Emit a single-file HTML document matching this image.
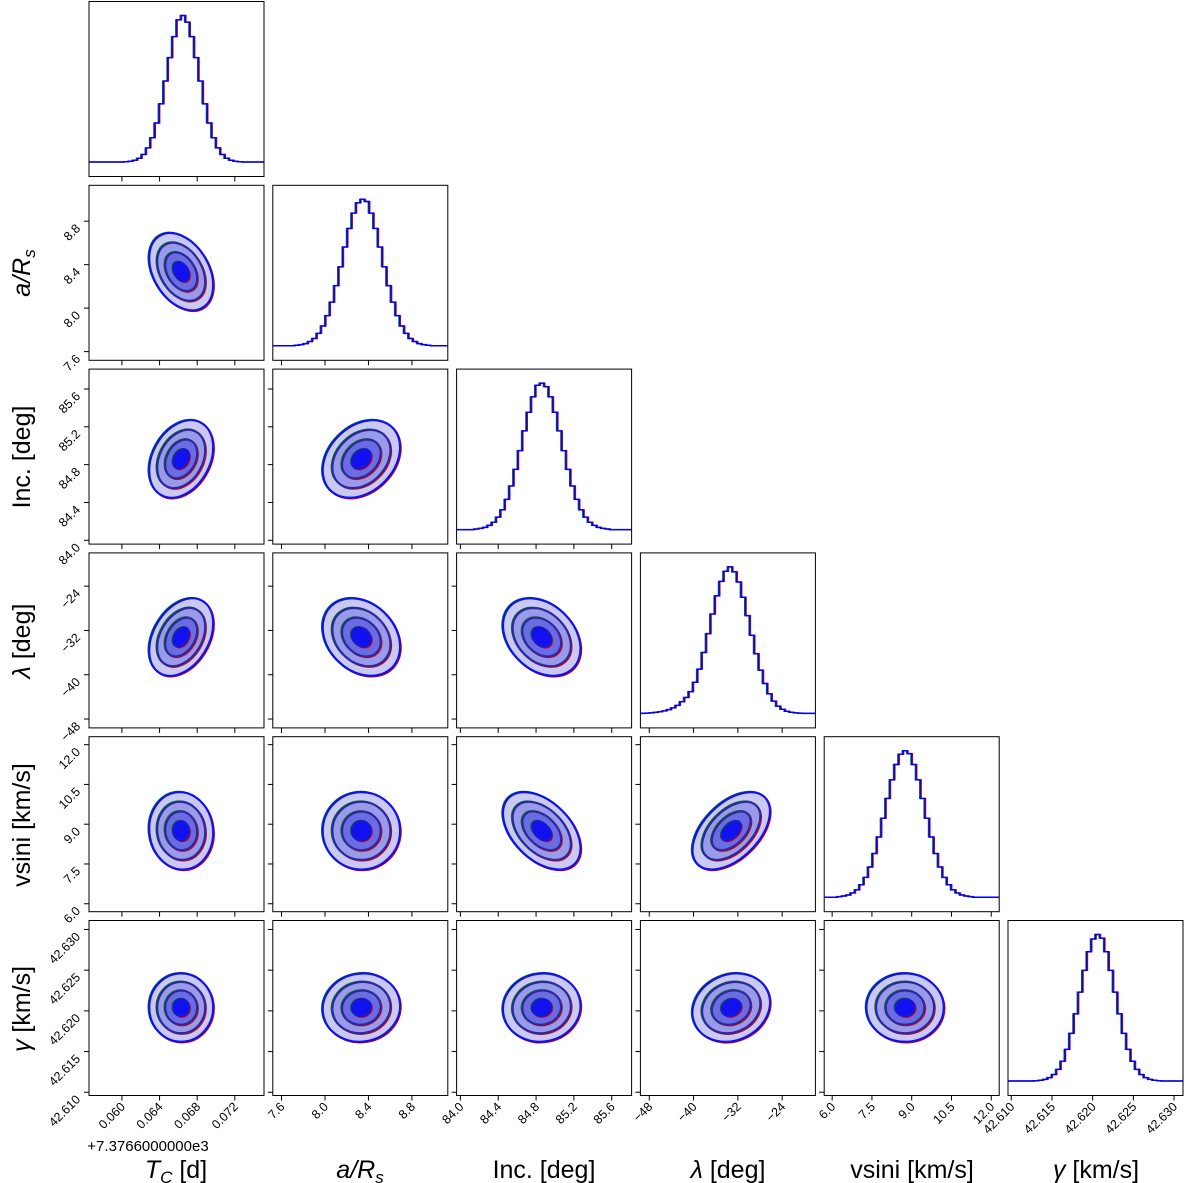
<!DOCTYPE html>
<html><head><meta charset="utf-8"><style>
html,body{margin:0;padding:0;background:#fff;}
svg{display:block;font-family:"Liberation Sans","DejaVu Sans",sans-serif;}
</style></head><body>
<svg id="fig" width="1200" height="1183" viewBox="0 0 1200 1183" xmlns="http://www.w3.org/2000/svg"></svg>
<script>
// ---- data ----
const paramNames = ["Tc","aRs","inc","lambda","vsini","gamma"];
const axisMin = [0.0565, 7.52, 83.96, -49.6, 5.70, 42.6096];
const axisMax = [0.0751, 9.13, 85.81, -18.0, 12.30, 42.6311];
const tickValues = [
  [0.060,0.064,0.068,0.072],
  [7.6,8.0,8.4,8.8],
  [84.0,84.4,84.8,85.2,85.6],
  [-48,-40,-32,-24],
  [6.0,7.5,9.0,10.5,12.0],
  [42.610,42.615,42.620,42.625,42.630]
];
const tickLabels = [
  ["0.060","0.064","0.068","0.072"],
  ["7.6","8.0","8.4","8.8"],
  ["84.0","84.4","84.8","85.2","85.6"],
  ["\u221248","\u221240","\u221232","\u221224"],
  ["6.0","7.5","9.0","10.5","12.0"],
  ["42.610","42.615","42.620","42.625","42.630"]
];
const paramMean = [0.0663, 8.335, 84.86, -33.2, 8.75, 42.6204];
const paramSd   = [0.0017, 0.178, 0.205, 3.5, 0.73, 0.0021];
// correlation pairs (row parameter vs column parameter)
const corrA = [0, -0.35, 0.30, 0.35, -0.05, 0.0];
const corrB = [0, 0, 0.30, -0.25, 0.0, 0.05];
const corrC = [0, 0, 0, -0.30, -0.45, 0.05];
const corrD = [0, 0, 0, 0, 0.50, 0.15];
const corrE = [0, 0, 0, 0, 0, 0.0];
const corrRows = [null, [corrA[1]], [corrA[2],corrB[2]], [corrA[3],corrB[3],corrC[3]], [corrA[4],corrB[4],corrC[4],corrD[4]], [corrA[5],corrB[5],corrC[5],corrD[5],corrE[5]]];
// histogram counts (40 bins across axis range, peak ~100)
const histTc = [0,0,0,0,0,0,0,0,0.2,0.5,1.2,2.6,5.2,9.7,16.7,26.9,40.1,55.8,72,86.4,98,101,96.4,86.4,72,55.8,40.1,26.9,16.7,9.7,5.2,2.6,1.2,0.5,0.2,0,0,0,0,0];
const histA  = [0,0,0,0,0,0.4,0.8,1.5,2.9,5,8.5,13.5,20.6,29.8,41.1,53.9,67.4,80.1,90.6,97.6,100,98.5,90.6,80.1,67.4,53.9,41.1,29.8,20.6,13.5,8.5,5,2.9,1.5,0.8,0.4,0,0,0,0];
const histInc= [0,0,0,0,0.4,0.8,1.5,2.9,5,8.5,13.5,20.6,29.8,41.1,53.9,67.4,80.1,90.6,98.5,100,97.6,90.6,80.1,67.4,53.9,41.1,29.8,20.6,13.5,8.5,5,2.9,1.5,0.8,0.4,0,0,0,0,0];
const histLam= [0,0.2,0.4,0.7,1.1,1.7,2.6,3.8,5.5,8,11,15,21.5,30.5,42,55,68.5,81,91,98,101,97.6,90.6,80.1,67.4,53.9,41.1,29.8,20.6,13.5,8.5,5,2.9,1.5,0.8,0.4,0.2,0,0,0];
const histV  = [0,0,0,0.4,0.8,1.5,2.9,5,8.5,13.5,20.6,29.8,41.1,53.9,67.4,80.1,90.6,97.6,100,98,90.6,80.1,67.4,53.9,41.1,29.8,20.6,13.5,8.5,5,2.9,1.5,0.8,0.4,0,0,0,0,0,0];
const histG  = [0,0,0,0,0,0,0.2,0.5,1.1,2.3,4.4,7.9,13.5,21.6,32.5,45.8,60.7,75.5,88.2,96.9,100,97.5,88.2,75.5,60.7,45.8,32.5,21.6,13.5,7.9,4.4,2.3,1.1,0.5,0.2,0,0,0,0,0];
const histograms = [histTc, histA, histInc, histLam, histV, histG];

// ---- layout ----
const svg = document.getElementById('fig');
const NS = "http://www.w3.org/2000/svg";
const P = 175, STEP = 183.8, X0 = 89, Y0 = 1.5;
function mk(tag, attrs, parent){ const e=document.createElementNS(NS,tag); for(const k in attrs) e.setAttribute(k,attrs[k]); (parent||svg).appendChild(e); return e; }
function colLeft(c){ return X0 + STEP*c; }
function rowTop(r){ return Y0 + STEP*r; }
function xScale(p, v, c){ return colLeft(c) + (v-axisMin[p])/(axisMax[p]-axisMin[p])*P; }
function yScale(p, v, r){ return rowTop(r) + P - (v-axisMin[p])/(axisMax[p]-axisMin[p])*P; }

function histPath(counts, c, r, shift){
  const n=counts.length, L=colLeft(c), T=rowTop(r);
  const base=T+160.5, top=T+14;
  const mx=Math.max(...counts);
  let d="";
  for(let i=0;i<n;i++){
    const x1=L+i*P/n+shift, x2=L+(i+1)*P/n+shift;
    const y=base-(counts[i]/mx)*(base-top);
    d+=(i===0?"M"+L+","+y:"L"+x1+","+y)+"L"+Math.min(x2,L+P)+","+y;
  }
  return d;
}

for(let r=0;r<6;r++){
  for(let c=0;c<=r;c++){
    const L=colLeft(c), T=rowTop(r);
    const g=mk('g',{});
    
    
    const clipId='clip'+r+'_'+c;
    const cp=mk('clipPath',{id:clipId},g); mk('rect',{x:L,y:T,width:P,height:P},cp);
    const inner=mk('g',{'clip-path':'url(#'+clipId+')'},g);
    if(r===c){
      const counts=histograms[c];
      const cols=[["#e00000",0.8],["#008000",-0.8],["#0000ff",0]];
      for(const [col,sh] of cols){
        const p=mk('path',{d:histPath(counts,c,r,sh),fill:'none',stroke:col,'stroke-width':col==="#0000ff"?1.5:1.2},inner);
        
        
      }
    } else {
      const px=paramSd[c]/(axisMax[c]-axisMin[c])*P;
      const py=paramSd[r]/(axisMax[r]-axisMin[r])*P;
      const rho=-corrRows[r][c];
      const cx=xScale(c,paramMean[c],c), cy=yScale(r,paramMean[r],r);
      const a=px*px, b=py*py, cv=rho*px*py;
      const tr=(a+b)/2, det=Math.sqrt(((a-b)/2)**2+cv*cv);
      const l1=tr+det, l2=tr-det;
      const ang=0.5*Math.atan2(2*cv,a-b)*180/Math.PI;
      const levels=[2,1.5,1,0.5];
      const fills=["#c9c9f4","#9a9aea","#6c6ce2","#1010f2"];
      const strokes=["#1010f0","#2a2aa0","#2a2aa0","#1818d0"];
      for(let i=0;i<levels.length;i++){
        const k=levels[i];
        const rx=k*Math.sqrt(l1), ry=k*Math.sqrt(l2);
        mk('ellipse',{cx:cx+0.8,cy:cy+0.8,rx:rx,ry:ry,transform:`rotate(${ang} ${cx+0.8} ${cy+0.8})`,fill:'none',stroke:'#e00000','stroke-width':1.8},inner);
        mk('ellipse',{cx:cx-0.8,cy:cy-0.5,rx:rx,ry:ry,transform:`rotate(${ang} ${cx-0.8} ${cy-0.5})`,fill:'none',stroke:'#008000','stroke-width':1.8},inner);
        const e=mk('ellipse',{cx:cx,cy:cy,rx:rx,ry:ry,transform:`rotate(${ang} ${cx} ${cy})`,fill:fills[i],stroke:strokes[i],'stroke-width':2.2},inner);
        
        
      }
    }
    mk('rect',{x:L,y:T,width:P,height:P,fill:'none',stroke:'#000','stroke-width':1},g);
    tickValues[c].forEach((v,i)=>{
      const x=xScale(c,v,c);
      mk('line',{x1:x,y1:T+P,x2:x,y2:T+P+5,stroke:'#000','stroke-width':1},g);
      if(r===5){
        const t=mk('text',{x:x+4,y:T+P+12,'font-size':12.5,'text-anchor':'end',transform:`rotate(-45 ${x+4} ${T+P+12})`},g);
        t.textContent=tickLabels[c][i];
      }
    });
    if(r!==c){
      tickValues[r].forEach((v,i)=>{
        const y=yScale(r,v,r);
        mk('line',{x1:L-5,y1:y,x2:L,y2:y,stroke:'#000','stroke-width':1},g);
        if(c===0){
          const t=mk('text',{x:L-8,y:y+8,'font-size':12.5,'text-anchor':'end',transform:`rotate(-45 ${L-8} ${y+8})`},g);
          t.textContent=tickLabels[r][i];
        }
      });
    }
  }
}
</script>
<svg style="position:absolute;left:0;top:0" width="1200" height="1183" xmlns="http://www.w3.org/2000/svg" font-family="Liberation Sans, DejaVu Sans, sans-serif">
  <text x="148" y="1151" font-size="15" text-anchor="middle">+7.3766000000e3</text>
  <text x="176" y="1178" font-size="25" text-anchor="middle"><tspan font-style="italic">T</tspan><tspan font-style="italic" font-size="17" dy="5">C</tspan><tspan dy="-5"> [d]</tspan></text>
  <text x="360" y="1178" font-size="25" text-anchor="middle" font-style="italic">a/R<tspan font-size="17" dy="5">s</tspan></text>
  <text x="544" y="1178" font-size="25" text-anchor="middle">Inc. [deg]</text>
  <text x="728" y="1178" font-size="25" text-anchor="middle"><tspan font-style="italic">λ</tspan> [deg]</text>
  <text x="912" y="1178" font-size="25" text-anchor="middle">vsini [km/s]</text>
  <text x="1096" y="1178" font-size="25" text-anchor="middle"><tspan font-style="italic">γ</tspan> [km/s]</text>
  <text x="30" y="273" font-size="25" text-anchor="middle" font-style="italic" transform="rotate(-90 30 273)">a/R<tspan font-size="17" dy="5">s</tspan></text>
  <text x="30" y="457" font-size="25" text-anchor="middle" transform="rotate(-90 30 457)">Inc. [deg]</text>
  <text x="30" y="641" font-size="25" text-anchor="middle" transform="rotate(-90 30 641)"><tspan font-style="italic">λ</tspan> [deg]</text>
  <text x="30" y="825" font-size="25" text-anchor="middle" transform="rotate(-90 30 825)">vsini [km/s]</text>
  <text x="30" y="1009" font-size="25" text-anchor="middle" transform="rotate(-90 30 1009)"><tspan font-style="italic">γ</tspan> [km/s]</text>
</svg>
</body></html>
